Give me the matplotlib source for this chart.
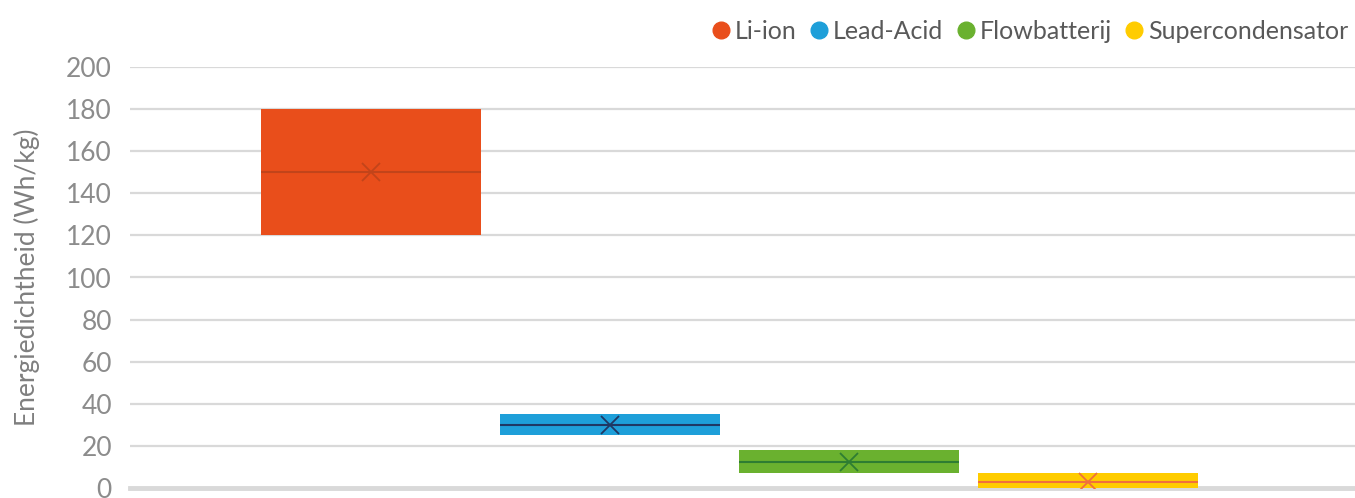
import matplotlib.pyplot as plt
from matplotlib.lines import Line2D

plt.rcParams['font.family'] = ['Lato', 'DejaVu Sans']

series = ['Li-ion', 'Lead-Acid', 'Flowbatterij', 'Supercondensator']
low = [120, 25, 7, 0]
high = [180, 35, 18, 7]
median = [150, 30, 12.5, 3]
mean = [150, 30, 12.5, 3]
colors = ['#E94E1B', '#1E9FD9', '#6AB12F', '#FFCC00']
median_colors = ['#C2441A', '#1F3864', '#2E7D32', '#F0703C']
yticks = [0, 20, 40, 60, 80, 100, 120, 140, 160, 180, 200]

fig = plt.figure(figsize=(13.55, 4.98), dpi=100)
ax = fig.add_axes([130 / 1355, 10 / 498, 1225 / 1355, 421 / 498])

pos = list(range(len(series)))
w = 0.92
for i in pos:
    ax.bar(i, high[i] - low[i], bottom=low[i], width=w, color=colors[i], zorder=3)
    ax.hlines(median[i], i - w / 2, i + w / 2, color=median_colors[i], lw=1.5, zorder=4)
    ax.plot(i, mean[i], marker='x', color=median_colors[i], markersize=13, mew=1.3, zorder=5)

ax.set_xlim(-1.008, 4.117)
ax.set_ylim(0, 200)
ax.set_yticks(yticks)
ax.set_xticks([])
ax.grid(axis='y', color='#D9D9D9', lw=1.6, zorder=0)
ax.axhline(0, color='#D9D9D9', lw=3.5, zorder=2, clip_on=False)
for s in ax.spines.values():
    s.set_visible(False)
ax.tick_params(axis='y', length=0, pad=13, labelsize=19, labelcolor='#8C8C8C')
ax.set_ylabel('Energiedichtheid (Wh/kg)', fontsize=19, color='#7F7F7F', labelpad=19)

handles = [Line2D([], [], marker='o', ls='', color=c, markersize=12) for c in colors]
fig.legend(handles, series, loc='upper right', bbox_to_anchor=(1.006, 0.99), ncol=4,
           frameon=False, fontsize=18, handlelength=0.8, handletextpad=0.15,
           columnspacing=0.5, labelcolor='#595959', borderaxespad=0.2)

fig.savefig('out.png', dpi=100)
